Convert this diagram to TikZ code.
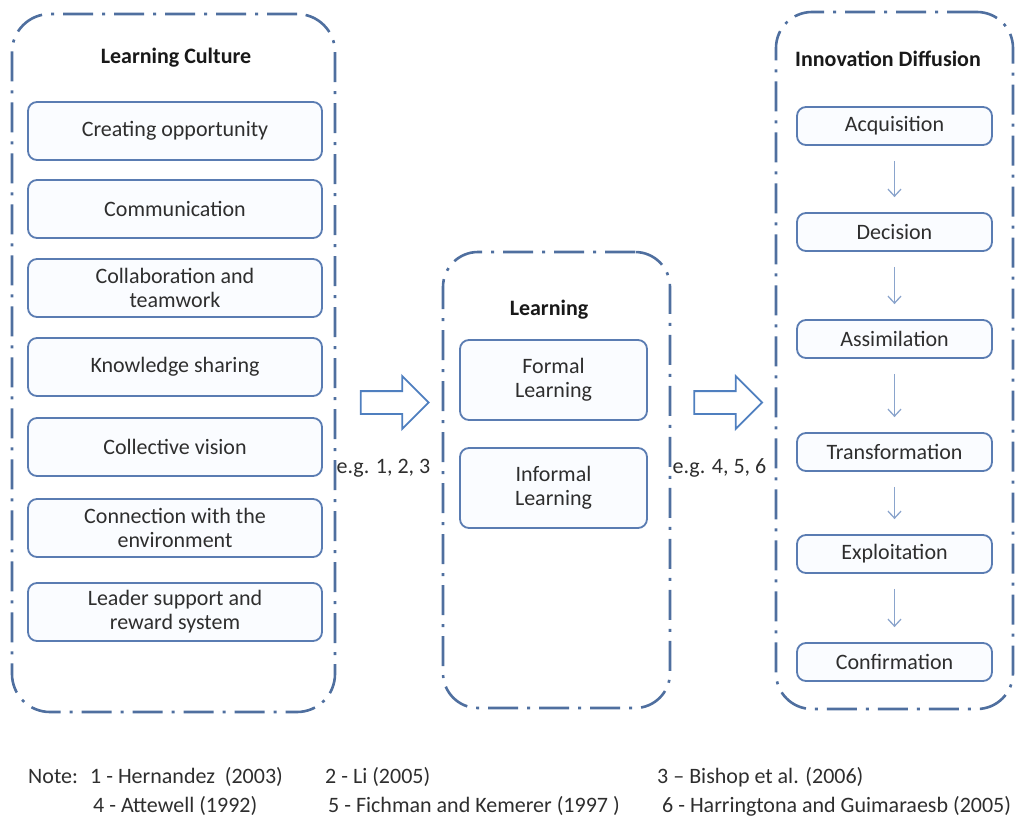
\documentclass[tikz,border=0pt]{standalone}
\usepackage{fontspec}
\setmainfont{Carlito}
\usetikzlibrary{shapes.arrows,arrows.meta}
\definecolor{outerc}{HTML}{4F6F9F}
\definecolor{innerc}{HTML}{5A7CB2}
\definecolor{boxfill}{HTML}{FAFCFF}
\definecolor{txt}{HTML}{2E2E2E}
\definecolor{arrc}{HTML}{8AA4CC}
\definecolor{barrow}{HTML}{4F7FBF}
\begin{document}
\begin{tikzpicture}[x=1pt,y=-1pt,
  outerbox/.style={draw=outerc, line width=2.6pt, dash pattern=on 30pt off 9pt on 3pt off 9pt, fill=white, inner sep=0pt},
  ibox/.style={draw=innerc, line width=1.8pt, rounded corners=9pt, fill=boxfill, align=center, text=txt, font=\fontsize{22}{24}\selectfont, inner sep=0pt},
  lbox/.style={ibox, minimum width=294pt, minimum height=58pt},
  rbox/.style={ibox, minimum width=195pt, minimum height=38pt},
  mbox/.style={ibox, minimum width=187pt, minimum height=80pt},
  ttl/.style={font=\fontsize{22}{24}\selectfont\bfseries, text=black!90},
  lbl/.style={font=\fontsize{22}{24}\selectfont, text=txt},
  note/.style={font=\fontsize{22}{24}\selectfont, text=txt, anchor=base west, inner sep=0pt},
  blockarrow/.style={single arrow, draw=barrow, line width=1.8pt, fill=white, inner sep=10.5pt, single arrow head extend=15pt, minimum height=68pt, single arrow tip angle=90},
  flow/.style={draw=arrc, line width=1.3pt, -{Straight Barb[length=7pt,width=13pt]}, shorten <=15pt, shorten >=15pt}
]
\useasboundingbox (0,0) rectangle (1023,816);

% outer containers
\node[outerbox, rounded corners=38pt, minimum width=323pt, minimum height=698pt] (lc) at (173.5,363) {};
\node[outerbox, rounded corners=35pt, minimum width=227pt, minimum height=456pt] (lm) at (556.5,480) {};
\node[outerbox, rounded corners=36pt, minimum width=237pt, minimum height=697pt] (id) at (894.5,360.5) {};

% titles
\node[ttl] (lct) at (176,58) {Learning Culture};
\node[ttl] (lmt) at (549,310) {Learning};
\node[ttl] (idt) at (888,59) {Innovation Diffusion};

% left boxes
\node[lbox] (l1) at (175,131) {Creating opportunity};
\node[lbox] (l2) at (175,209) {Communication};
\node[lbox] (l3) at (175,288) {Collaboration and\\teamwork};
\node[lbox] (l4) at (175,367) {Knowledge sharing};
\node[lbox] (l5) at (175,447) {Collective vision};
\node[lbox] (l6) at (175,528) {Connection with the\\environment};
\node[lbox] (l7) at (175,612) {Leader support and\\reward system};

% middle boxes
\node[mbox] (m1) at (553.5,380) {Formal\\Learning};
\node[mbox] (m2) at (553.5,488) {Informal\\Learning};

% right boxes
\node[rbox] (r1) at (894.5,126) {Acquisition};
\node[rbox] (r2) at (894.5,232) {Decision};
\node[rbox] (r3) at (894.5,339) {Assimilation};
\node[rbox] (r4) at (894.5,452) {Transformation};
\node[rbox] (r5) at (894.5,554) {Exploitation};
\node[rbox] (r6) at (894.5,662) {Confirmation};

\draw[flow] (r1) -- (r2);
\draw[flow] (r2) -- (r3);
\draw[flow] (r3) -- (r4);
\draw[flow] (r4) -- (r5);
\draw[flow] (r5) -- (r6);

% block arrows
\node[blockarrow] (a1) at (389,402.5) {};
\node[blockarrow] (a2) at (722.5,402.5) {};

% labels
\node[lbl] (e1) at (383.5,468) {e.g. 1, 2, 3};
\node[lbl] (e2) at (719.5,468) {e.g. 4, 5, 6};

% notes
\node[note] (n0) at (28,783) {Note:};
\node[note] (n1) at (90,783) {1 - Hernandez\ \ (2003)};
\node[note] (n2) at (325,783) {2 - Li (2005)};
\node[note] (n3) at (657,783) {3 -- Bishop et al. (2006)};
\node[note] (n4) at (93,812) {4 - Attewell (1992)};
\node[note] (n5) at (328,812) {5 - Fichman and Kemerer (1997 )};
\node[note] (n6) at (662,812) {6 - Harringtona and Guimaraesb (2005)};
\end{tikzpicture}
\end{document}
